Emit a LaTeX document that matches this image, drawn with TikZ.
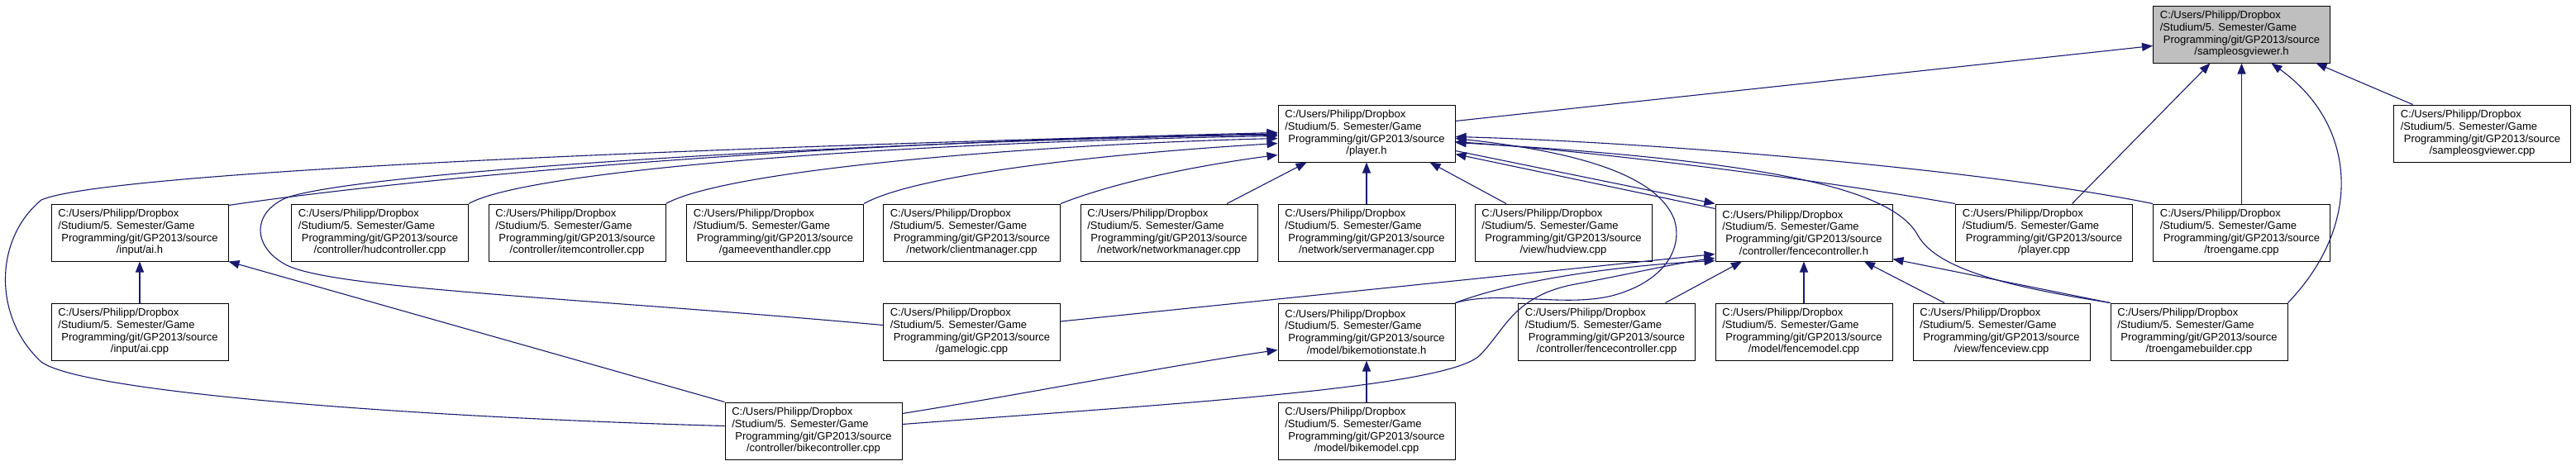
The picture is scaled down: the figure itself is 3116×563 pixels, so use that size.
\documentclass[tikz,border=0pt]{standalone}
\usepackage{fontspec}
\setmainfont{Liberation Sans}
\usepackage{tikz}
\usetikzlibrary{arrows.meta}
\usepackage{xcolor}
\definecolor{dNavy}{HTML}{191970}
\definecolor{dGrey}{HTML}{BFBFBF}
\newlength\srcwd
\newcommand{\srcpath}[1]{%
  \settowidth{\srcwd}{Programming/git/GP2013/source}\global\srcwd=\srcwd
  \makebox[\srcwd][l]{\hspace*{-4pt}C:/Users/Philipp/Dropbox}\\
  \makebox[\srcwd][l]{\hspace*{-4pt}/Studium/5. Semester/Game}\\
  Programming/git/GP2013/source\\
  #1}

\begin{document}
\begin{tikzpicture}[x=1pt, y=-1pt, >={Triangle[length=13pt, width=10pt]},
  filebox/.style={draw=black, line width=1pt, fill=white, minimum width=214pt,
                  minimum height=69pt, inner sep=0pt, align=center,
                  font=\fontsize{13}{14.6}\selectfont},
  root/.style={filebox, fill=dGrey},
  dep/.style={draw=dNavy, line width=1.1pt, ->}]
  \useasboundingbox (0,0) rectangle (3116,563);
  % headers and sources
  \node[root]    (sosgh)        at (2711.5,41.5)  {\srcpath{/sampleosgviewer.h}};
  \node[filebox] (sosgcpp)      at (3002.5,161.5) {\srcpath{/sampleosgviewer.cpp}};
  \node[filebox] (playerh)      at (1653,161.5)   {\srcpath{/player.h}};
  \node[filebox] (aih)          at (169,281.5)    {\srcpath{/input/ai.h}};
  \node[filebox] (hudctrl)      at (459.5,281.5)  {\srcpath{/controller/hudcontroller.cpp}};
  \node[filebox] (itemctrl)     at (698,281.5)    {\srcpath{/controller/itemcontroller.cpp}};
  \node[filebox] (gameevent)    at (937.5,281.5)  {\srcpath{/gameeventhandler.cpp}};
  \node[filebox] (clientmgr)    at (1175.5,281.5) {\srcpath{/network/clientmanager.cpp}};
  \node[filebox] (networkmgr)   at (1414,281.5)   {\srcpath{/network/networkmanager.cpp}};
  \node[filebox] (servermgr)    at (1653,281.5)   {\srcpath{/network/servermanager.cpp}};
  \node[filebox] (hudview)      at (1891,281.5)   {\srcpath{/view/hudview.cpp}};
  \node[filebox] (fenceh)       at (2182,281.5)   {\srcpath{/controller/fencecontroller.h}};
  \node[filebox] (playercpp)    at (2472.5,281.5) {\srcpath{/player.cpp}};
  \node[filebox] (troengame)    at (2711.5,281.5) {\srcpath{/troengame.cpp}};
  \node[filebox] (aicpp)        at (169,401.5)    {\srcpath{/input/ai.cpp}};
  \node[filebox] (gamelogic)    at (1175.5,401.5) {\srcpath{/gamelogic.cpp}};
  \node[filebox] (bikemotion)   at (1653,401.5)   {\srcpath{/model/bikemotionstate.h}};
  \node[filebox] (fencectrl)    at (1943.5,401.5) {\srcpath{/controller/fencecontroller.cpp}};
  \node[filebox] (fencemodel)   at (2182,401.5)   {\srcpath{/model/fencemodel.cpp}};
  \node[filebox] (fenceview)    at (2421,401.5)   {\srcpath{/view/fenceview.cpp}};
  \node[filebox] (troenbuilder) at (2660,401.5)   {\srcpath{/troengamebuilder.cpp}};
  \node[filebox] (bikectrl)     at (984,521.5)    {\srcpath{/controller/bikecontroller.cpp}};
  \node[filebox] (bikemodel)    at (1653,521.5)   {\srcpath{/model/bikemodel.cpp}};
  % includes of sampleosgviewer.h
  \draw[dep] ([yshift=15pt]playerh.east) -- ([yshift=-14pt]sosgh.west);
  \draw[dep] ([xshift=34pt]playercpp.north) -- ([xshift=-38pt]sosgh.south);
  \draw[dep] (troengame.north) -- (sosgh.south);
  \draw[dep] (troenbuilder.north east) .. controls (2860,270) and (2850,150) .. ([xshift=36pt]sosgh.south);
  \draw[dep] ([xshift=-84pt]sosgcpp.north) -- ([xshift=90pt]sosgh.south);
  % includes of player.h, left side
  \draw[dep] ([yshift=6pt]bikectrl.west) .. controls (500,505) and (100,475) .. (50,438)
             .. controls (-8,385) and (-8,290) .. (50,242)
             .. controls (110,215) and (600,185) .. ([yshift=1pt]playerh.west);
  \draw[dep] ([yshift=33pt]aih.east) .. controls (500,215) and (1000,170) .. ([yshift=-0.5pt]playerh.west);
  \draw[dep] ([yshift=8pt]gamelogic.west) .. controls (700,360) and (400,350) .. (345,320)
             .. controls (305,298) and (305,258) .. (345,240)
             .. controls (420,210) and (1000,172) .. ([yshift=-1.5pt]playerh.west);
  \draw[dep] (hudctrl.north east) .. controls (640,205) and (1100,172) .. ([yshift=-3pt]playerh.west);
  \draw[dep] (itemctrl.north east) .. controls (880,205) and (1250,175) .. ([yshift=-6pt]playerh.west);
  \draw[dep] (gameevent.north east) .. controls (1110,210) and (1350,185) .. ([yshift=-12pt]playerh.west);
  \draw[dep] (clientmgr.north east) .. controls (1350,220) and (1450,200) .. ([yshift=-26pt]playerh.west);
  \draw[dep] ([xshift=70pt]networkmgr.north) -- ([xshift=35pt]playerh.south west);
  \draw[dep] (servermgr.north) -- (playerh.south);
  \draw[dep] ([xshift=-69pt]hudview.north) -- ([xshift=-31pt]playerh.south east);
  % includes of player.h, right side
  \draw[dep] (troengame.north west) .. controls (2400,205) and (2000,172) .. ([yshift=-4pt]playerh.east);
  \draw[dep] (playercpp.north west) .. controls (2200,218) and (1950,185) .. ([yshift=-10pt]playerh.east);
  \draw[dep] (troenbuilder.north west) .. controls (2450,350) and (2345,330) .. (2320,285)
             .. controls (2290,230) and (2150,195) .. ([yshift=-11pt]playerh.east);
  \draw[dep] (bikemotion.north east) .. controls (1820,350) and (1900,375) .. (1960,355)
             .. controls (2020,335) and (2035,295) .. (2025,265)
             .. controls (2005,215) and (1920,185) .. ([yshift=-6pt]playerh.east);
  \draw[dep] ([yshift=29pt]fenceh.west) -- ([yshift=-25pt]playerh.east);
  \draw[dep] ([yshift=-21pt]playerh.east) -- (fenceh.north west);
  % includes of fencecontroller.h
  \draw[dep] ([yshift=12.5pt]gamelogic.east) -- ([yshift=-26pt]fenceh.west);
  \draw[dep] ([yshift=8pt]bikectrl.east) .. controls (1400,490) and (1750,470) .. (1790,430)
             .. controls (1820,400) and (1830,360) .. (1900,345)
             .. controls (1980,330) and (2030,318) .. ([yshift=-31pt]fenceh.west);
  \draw[dep] (bikemotion.north east) .. controls (1830,340) and (1950,322) .. ([yshift=-34pt]fenceh.west);
  \draw[dep] ([xshift=71pt]fencectrl.north) -- ([xshift=-75pt]fenceh.south);
  \draw[dep] (fencemodel.north) -- (fenceh.south);
  \draw[dep] ([xshift=-69pt]fenceview.north) -- ([xshift=73pt]fenceh.south);
  \draw[dep] (troenbuilder.north west) -- ([yshift=3pt]fenceh.south east);
  % the rest
  \draw[dep] (aicpp.north) -- (aih.south);
  \draw[dep] (bikectrl.north west) -- (aih.south east);
  \draw[dep] ([yshift=21pt]bikectrl.east) .. controls (1250,475) and (1400,445) .. ([yshift=-22pt]bikemotion.west);
  \draw[dep] (bikemodel.north) -- (bikemotion.south);
\end{tikzpicture}
\end{document}
